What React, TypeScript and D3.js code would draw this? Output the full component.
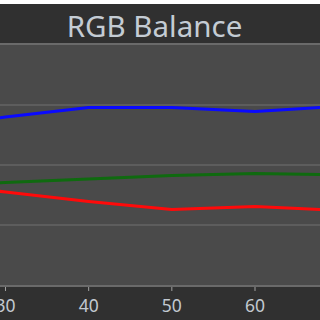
import React, { useEffect } from "react";
import * as d3 from "d3";

const xValues = [20, 30, 40, 50, 60, 70];
const blueValues = [0.31, 0.4, 0.48, 0.48, 0.445, 0.49];
const greenValues = [-0.175, -0.146, -0.117, -0.088, -0.071, -0.082];
const redValues = [-0.146, -0.225, -0.304, -0.371, -0.346, -0.379];
const xTicks = [30, 40, 50, 60];
const yGrid = [-0.5, 0, 0.5];
const title = "RGB Balance";

const W = 320;
const H = 320;
const plotTop = 45;
const plotBottom = 285;

export default function App() {
  useEffect(() => {
    document.body.style.margin = "0";
  }, []);

  const x = d3.scaleLinear().domain([30, 60]).range([5.5, 255]);
  const y = d3.scaleLinear().domain([-1, 1]).range([plotBottom, plotTop]);

  const line = d3
    .line<number>()
    .x((_, i) => x(xValues[i]))
    .y((d) => y(d))
    .curve(d3.curveLinear);

  const series = [
    { values: greenValues, color: "#0f6a0f" },
    { values: redValues, color: "#ff0a0a" },
    { values: blueValues, color: "#0a0aff" },
  ];

  return (
    <svg width={W} height={H} style={{ display: "block" }}>
      <defs>
        <clipPath id="plotClip">
          <rect x={0} y={plotTop} width={W} height={plotBottom - plotTop} />
        </clipPath>
      </defs>
      <rect x={0} y={0} width={W} height={H} fill="#ffffff" />
      <rect x={0} y={4} width={W} height={H - 4} fill="#303030" />
      <rect x={0} y={plotTop} width={W} height={plotBottom - plotTop} fill="#4a4a4a" />
      <rect x={0} y={43} width={W} height={2} fill="#6a6a6a" />
      <rect x={0} y={plotBottom} width={W} height={2} fill="#6a6a6a" />
      {yGrid.map((v) => (
        <line key={v} x1={0} x2={W} y1={y(v)} y2={y(v)} stroke="#5d5d5d" strokeWidth={2} />
      ))}
      <g clipPath="url(#plotClip)">
        {series.map((s, i) => (
          <path
            key={i}
            d={line(s.values) || ""}
            fill="none"
            stroke={s.color}
            strokeWidth={3}
            strokeLinejoin="round"
          />
        ))}
      </g>
      {xTicks.map((t) => (
        <g key={t} transform={`translate(${x(t)},0)`}>
          <line y1={plotBottom + 2} y2={plotBottom + 6} stroke="#a0a0a0" strokeWidth={1} />
          <text
            y={312}
            textAnchor="middle"
            fontFamily="'Noto Sans', sans-serif"
            fontSize={17.5}
            fill="#c2c9d0"
          >
            {t}
          </text>
        </g>
      ))}
      <text
        x={154.5}
        y={37}
        textAnchor="middle"
        fontFamily="'Noto Sans', sans-serif"
        fontSize={29.5}
        fill="#c4ccd4"
      >
        {title}
      </text>
    </svg>
  );
}
